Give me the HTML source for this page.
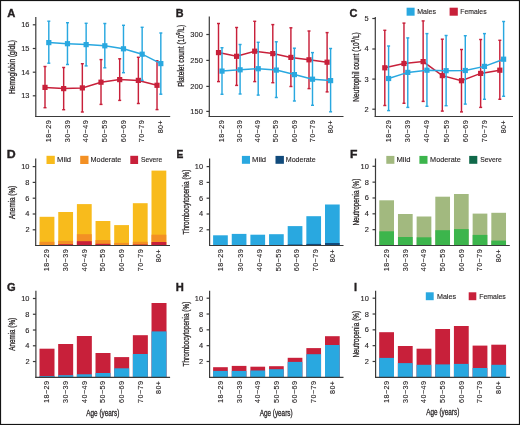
<!DOCTYPE html>
<html><head><meta charset="utf-8"><style>
html,body{margin:0;padding:0;background:#fff;}
body{width:520px;height:425px;overflow:hidden;}
svg{display:block;will-change:transform;}
text{font-family:"Liberation Sans",sans-serif;font-kerning:none;stroke:#231f20;stroke-width:0.28px;}
text.t{stroke-width:0.12px;}
</style></head><body>
<svg width="520" height="425" viewBox="0 0 520 425">
<rect x="0" y="0" width="520" height="425" fill="#fff"/>
<text transform="translate(7.32,16.90) scale(1.058,1)" font-size="10.58" font-weight="bold" style="stroke-width:0.35px" fill="#231f20">A</text>
<text transform="translate(175.80,16.90) scale(1.023,1)" font-size="10.58" font-weight="bold" style="stroke-width:0.35px" fill="#231f20">B</text>
<text transform="translate(349.46,16.70) scale(1.039,1)" font-size="10.58" font-weight="bold" style="stroke-width:0.35px" fill="#231f20">C</text>
<text transform="translate(6.70,158.30) scale(1.168,1)" font-size="10.58" font-weight="bold" style="stroke-width:0.35px" fill="#231f20">D</text>
<text transform="translate(176.43,158.30) scale(0.970,1)" font-size="10.58" font-weight="bold" style="stroke-width:0.35px" fill="#231f20">E</text>
<text transform="translate(350.11,158.30) scale(1.149,1)" font-size="10.58" font-weight="bold" style="stroke-width:0.35px" fill="#231f20">F</text>
<text transform="translate(6.96,290.70) scale(1.111,1)" font-size="10.00" font-weight="bold" style="stroke-width:0.35px" fill="#231f20">G</text>
<text transform="translate(175.67,290.50) scale(1.103,1)" font-size="10.14" font-weight="bold" style="stroke-width:0.35px" fill="#231f20">H</text>
<text transform="translate(353.88,290.70) scale(1.057,1)" font-size="10.43" font-weight="bold" style="stroke-width:0.35px" fill="#231f20">I</text>
<text class="t" transform="translate(21.22,27.29) scale(1.050,1)" font-size="7.10" fill="#231f20">16</text>
<text class="t" transform="translate(21.22,50.98) scale(1.050,1)" font-size="7.10" fill="#231f20">15</text>
<text class="t" transform="translate(21.15,74.69) scale(1.050,1)" font-size="7.10" fill="#231f20">14</text>
<text class="t" transform="translate(21.22,98.28) scale(1.050,1)" font-size="7.10" fill="#231f20">13</text>
<text transform="translate(15.40,94.03) rotate(-90) scale(0.757,1)" font-size="8.70" fill="#231f20">Hemoglobin (g/dL)</text>
<text class="t" transform="translate(50.95,142.31) rotate(-90) scale(0.980,1)" font-size="7.30" letter-spacing="0.5" fill="#231f20">18−29</text>
<text class="t" transform="translate(69.62,142.31) rotate(-90) scale(0.980,1)" font-size="7.30" letter-spacing="0.5" fill="#231f20">30−39</text>
<text class="t" transform="translate(88.30,142.31) rotate(-90) scale(0.980,1)" font-size="7.30" letter-spacing="0.5" fill="#231f20">40−49</text>
<text class="t" transform="translate(106.97,142.31) rotate(-90) scale(0.980,1)" font-size="7.30" letter-spacing="0.5" fill="#231f20">50−59</text>
<text class="t" transform="translate(125.64,142.31) rotate(-90) scale(0.980,1)" font-size="7.30" letter-spacing="0.5" fill="#231f20">60−69</text>
<text class="t" transform="translate(144.31,142.31) rotate(-90) scale(0.980,1)" font-size="7.30" letter-spacing="0.5" fill="#231f20">70−79</text>
<text class="t" transform="translate(162.98,133.37) rotate(-90) scale(0.980,1)" font-size="7.30" letter-spacing="0.5" fill="#231f20">80+</text>
<polyline points="45.00,87.40 63.67,88.60 82.34,87.90 101.01,82.20 119.68,79.60 138.35,80.40 157.02,85.30" fill="none" stroke="#c8203a" stroke-width="1.5"/>
<line x1="45.00" y1="66.50" x2="45.00" y2="107.70" stroke="#c8203a" stroke-width="1.45"/>
<line x1="43.50" y1="66.50" x2="46.50" y2="66.50" stroke="#c8203a" stroke-width="1.45"/>
<line x1="43.50" y1="107.70" x2="46.50" y2="107.70" stroke="#c8203a" stroke-width="1.45"/>
<line x1="63.67" y1="67.50" x2="63.67" y2="109.70" stroke="#c8203a" stroke-width="1.45"/>
<line x1="62.17" y1="67.50" x2="65.17" y2="67.50" stroke="#c8203a" stroke-width="1.45"/>
<line x1="62.17" y1="109.70" x2="65.17" y2="109.70" stroke="#c8203a" stroke-width="1.45"/>
<line x1="82.34" y1="63.70" x2="82.34" y2="112.00" stroke="#c8203a" stroke-width="1.45"/>
<line x1="80.84" y1="63.70" x2="83.84" y2="63.70" stroke="#c8203a" stroke-width="1.45"/>
<line x1="80.84" y1="112.00" x2="83.84" y2="112.00" stroke="#c8203a" stroke-width="1.45"/>
<line x1="101.01" y1="59.60" x2="101.01" y2="104.40" stroke="#c8203a" stroke-width="1.45"/>
<line x1="99.51" y1="59.60" x2="102.51" y2="59.60" stroke="#c8203a" stroke-width="1.45"/>
<line x1="99.51" y1="104.40" x2="102.51" y2="104.40" stroke="#c8203a" stroke-width="1.45"/>
<line x1="119.68" y1="58.80" x2="119.68" y2="100.40" stroke="#c8203a" stroke-width="1.45"/>
<line x1="118.18" y1="58.80" x2="121.18" y2="58.80" stroke="#c8203a" stroke-width="1.45"/>
<line x1="118.18" y1="100.40" x2="121.18" y2="100.40" stroke="#c8203a" stroke-width="1.45"/>
<line x1="138.35" y1="57.30" x2="138.35" y2="103.50" stroke="#c8203a" stroke-width="1.45"/>
<line x1="136.85" y1="57.30" x2="139.85" y2="57.30" stroke="#c8203a" stroke-width="1.45"/>
<line x1="136.85" y1="103.50" x2="139.85" y2="103.50" stroke="#c8203a" stroke-width="1.45"/>
<line x1="157.02" y1="60.80" x2="157.02" y2="109.60" stroke="#c8203a" stroke-width="1.45"/>
<line x1="155.52" y1="60.80" x2="158.52" y2="60.80" stroke="#c8203a" stroke-width="1.45"/>
<line x1="155.52" y1="109.60" x2="158.52" y2="109.60" stroke="#c8203a" stroke-width="1.45"/>
<rect x="42.40" y="84.80" width="5.20" height="5.20" fill="#c8203a"/>
<rect x="61.07" y="86.00" width="5.20" height="5.20" fill="#c8203a"/>
<rect x="79.74" y="85.30" width="5.20" height="5.20" fill="#c8203a"/>
<rect x="98.41" y="79.60" width="5.20" height="5.20" fill="#c8203a"/>
<rect x="117.08" y="77.00" width="5.20" height="5.20" fill="#c8203a"/>
<rect x="135.75" y="77.80" width="5.20" height="5.20" fill="#c8203a"/>
<rect x="154.42" y="82.70" width="5.20" height="5.20" fill="#c8203a"/>
<polyline points="48.80,42.60 67.47,43.70 86.14,44.60 104.81,45.80 123.48,48.80 142.15,54.20 160.82,63.60" fill="none" stroke="#29a8e0" stroke-width="1.5"/>
<line x1="48.80" y1="21.20" x2="48.80" y2="63.20" stroke="#29a8e0" stroke-width="1.45"/>
<line x1="47.30" y1="21.20" x2="50.30" y2="21.20" stroke="#29a8e0" stroke-width="1.45"/>
<line x1="47.30" y1="63.20" x2="50.30" y2="63.20" stroke="#29a8e0" stroke-width="1.45"/>
<line x1="67.47" y1="22.70" x2="67.47" y2="64.50" stroke="#29a8e0" stroke-width="1.45"/>
<line x1="65.97" y1="22.70" x2="68.97" y2="22.70" stroke="#29a8e0" stroke-width="1.45"/>
<line x1="65.97" y1="64.50" x2="68.97" y2="64.50" stroke="#29a8e0" stroke-width="1.45"/>
<line x1="86.14" y1="23.30" x2="86.14" y2="65.90" stroke="#29a8e0" stroke-width="1.45"/>
<line x1="84.64" y1="23.30" x2="87.64" y2="23.30" stroke="#29a8e0" stroke-width="1.45"/>
<line x1="84.64" y1="65.90" x2="87.64" y2="65.90" stroke="#29a8e0" stroke-width="1.45"/>
<line x1="104.81" y1="23.50" x2="104.81" y2="67.80" stroke="#29a8e0" stroke-width="1.45"/>
<line x1="103.31" y1="23.50" x2="106.31" y2="23.50" stroke="#29a8e0" stroke-width="1.45"/>
<line x1="103.31" y1="67.80" x2="106.31" y2="67.80" stroke="#29a8e0" stroke-width="1.45"/>
<line x1="123.48" y1="25.30" x2="123.48" y2="72.70" stroke="#29a8e0" stroke-width="1.45"/>
<line x1="121.98" y1="25.30" x2="124.98" y2="25.30" stroke="#29a8e0" stroke-width="1.45"/>
<line x1="121.98" y1="72.70" x2="124.98" y2="72.70" stroke="#29a8e0" stroke-width="1.45"/>
<line x1="142.15" y1="27.30" x2="142.15" y2="80.40" stroke="#29a8e0" stroke-width="1.45"/>
<line x1="140.65" y1="27.30" x2="143.65" y2="27.30" stroke="#29a8e0" stroke-width="1.45"/>
<line x1="140.65" y1="80.40" x2="143.65" y2="80.40" stroke="#29a8e0" stroke-width="1.45"/>
<line x1="160.82" y1="33.00" x2="160.82" y2="94.20" stroke="#29a8e0" stroke-width="1.45"/>
<line x1="159.32" y1="33.00" x2="162.32" y2="33.00" stroke="#29a8e0" stroke-width="1.45"/>
<line x1="159.32" y1="94.20" x2="162.32" y2="94.20" stroke="#29a8e0" stroke-width="1.45"/>
<rect x="46.20" y="40.00" width="5.20" height="5.20" fill="#29a8e0"/>
<rect x="64.87" y="41.10" width="5.20" height="5.20" fill="#29a8e0"/>
<rect x="83.54" y="42.00" width="5.20" height="5.20" fill="#29a8e0"/>
<rect x="102.21" y="43.20" width="5.20" height="5.20" fill="#29a8e0"/>
<rect x="120.88" y="46.20" width="5.20" height="5.20" fill="#29a8e0"/>
<rect x="139.55" y="51.60" width="5.20" height="5.20" fill="#29a8e0"/>
<rect x="158.22" y="61.00" width="5.20" height="5.20" fill="#29a8e0"/>
<text class="t" transform="translate(190.35,36.98) scale(1.050,1)" font-size="7.10" fill="#231f20">300</text>
<text class="t" transform="translate(190.35,62.88) scale(1.050,1)" font-size="7.10" fill="#231f20">250</text>
<text class="t" transform="translate(190.35,88.89) scale(1.050,1)" font-size="7.10" fill="#231f20">200</text>
<text class="t" transform="translate(190.35,113.89) scale(1.050,1)" font-size="7.10" fill="#231f20">150</text>
<text transform="translate(183.80,86.83) rotate(-90) scale(0.768,1)" font-size="8.70" fill="#231f20">Platelet count (10<tspan font-size="5.39" dy="-3.65">9</tspan><tspan dy="3.65">/L)</tspan></text>
<text class="t" transform="translate(224.16,142.31) rotate(-90) scale(0.980,1)" font-size="7.30" letter-spacing="0.5" fill="#231f20">18−29</text>
<text class="t" transform="translate(242.25,142.31) rotate(-90) scale(0.980,1)" font-size="7.30" letter-spacing="0.5" fill="#231f20">30−39</text>
<text class="t" transform="translate(260.36,142.31) rotate(-90) scale(0.980,1)" font-size="7.30" letter-spacing="0.5" fill="#231f20">40−49</text>
<text class="t" transform="translate(278.45,142.31) rotate(-90) scale(0.980,1)" font-size="7.30" letter-spacing="0.5" fill="#231f20">50−59</text>
<text class="t" transform="translate(296.56,142.31) rotate(-90) scale(0.980,1)" font-size="7.30" letter-spacing="0.5" fill="#231f20">60−69</text>
<text class="t" transform="translate(314.66,142.31) rotate(-90) scale(0.980,1)" font-size="7.30" letter-spacing="0.5" fill="#231f20">70−79</text>
<text class="t" transform="translate(332.75,133.37) rotate(-90) scale(0.980,1)" font-size="7.30" letter-spacing="0.5" fill="#231f20">80+</text>
<polyline points="218.50,52.60 236.60,56.30 254.70,51.20 272.80,53.60 290.90,57.40 309.00,59.80 327.10,62.20" fill="none" stroke="#c8203a" stroke-width="1.5"/>
<line x1="218.50" y1="23.50" x2="218.50" y2="81.60" stroke="#c8203a" stroke-width="1.45"/>
<line x1="217.00" y1="23.50" x2="220.00" y2="23.50" stroke="#c8203a" stroke-width="1.45"/>
<line x1="217.00" y1="81.60" x2="220.00" y2="81.60" stroke="#c8203a" stroke-width="1.45"/>
<line x1="236.60" y1="27.50" x2="236.60" y2="85.40" stroke="#c8203a" stroke-width="1.45"/>
<line x1="235.10" y1="27.50" x2="238.10" y2="27.50" stroke="#c8203a" stroke-width="1.45"/>
<line x1="235.10" y1="85.40" x2="238.10" y2="85.40" stroke="#c8203a" stroke-width="1.45"/>
<line x1="254.70" y1="21.30" x2="254.70" y2="81.60" stroke="#c8203a" stroke-width="1.45"/>
<line x1="253.20" y1="21.30" x2="256.20" y2="21.30" stroke="#c8203a" stroke-width="1.45"/>
<line x1="253.20" y1="81.60" x2="256.20" y2="81.60" stroke="#c8203a" stroke-width="1.45"/>
<line x1="272.80" y1="24.60" x2="272.80" y2="82.70" stroke="#c8203a" stroke-width="1.45"/>
<line x1="271.30" y1="24.60" x2="274.30" y2="24.60" stroke="#c8203a" stroke-width="1.45"/>
<line x1="271.30" y1="82.70" x2="274.30" y2="82.70" stroke="#c8203a" stroke-width="1.45"/>
<line x1="290.90" y1="27.80" x2="290.90" y2="86.50" stroke="#c8203a" stroke-width="1.45"/>
<line x1="289.40" y1="27.80" x2="292.40" y2="27.80" stroke="#c8203a" stroke-width="1.45"/>
<line x1="289.40" y1="86.50" x2="292.40" y2="86.50" stroke="#c8203a" stroke-width="1.45"/>
<line x1="309.00" y1="31.00" x2="309.00" y2="88.60" stroke="#c8203a" stroke-width="1.45"/>
<line x1="307.50" y1="31.00" x2="310.50" y2="31.00" stroke="#c8203a" stroke-width="1.45"/>
<line x1="307.50" y1="88.60" x2="310.50" y2="88.60" stroke="#c8203a" stroke-width="1.45"/>
<line x1="327.10" y1="32.60" x2="327.10" y2="91.90" stroke="#c8203a" stroke-width="1.45"/>
<line x1="325.60" y1="32.60" x2="328.60" y2="32.60" stroke="#c8203a" stroke-width="1.45"/>
<line x1="325.60" y1="91.90" x2="328.60" y2="91.90" stroke="#c8203a" stroke-width="1.45"/>
<rect x="215.90" y="50.00" width="5.20" height="5.20" fill="#c8203a"/>
<rect x="234.00" y="53.70" width="5.20" height="5.20" fill="#c8203a"/>
<rect x="252.10" y="48.60" width="5.20" height="5.20" fill="#c8203a"/>
<rect x="270.20" y="51.00" width="5.20" height="5.20" fill="#c8203a"/>
<rect x="288.30" y="54.80" width="5.20" height="5.20" fill="#c8203a"/>
<rect x="306.40" y="57.20" width="5.20" height="5.20" fill="#c8203a"/>
<rect x="324.50" y="59.60" width="5.20" height="5.20" fill="#c8203a"/>
<polyline points="222.00,71.10 240.10,69.80 258.20,68.70 276.30,70.10 294.40,74.60 312.50,79.20 330.60,80.60" fill="none" stroke="#29a8e0" stroke-width="1.5"/>
<line x1="222.00" y1="47.70" x2="222.00" y2="94.30" stroke="#29a8e0" stroke-width="1.45"/>
<line x1="220.50" y1="47.70" x2="223.50" y2="47.70" stroke="#29a8e0" stroke-width="1.45"/>
<line x1="220.50" y1="94.30" x2="223.50" y2="94.30" stroke="#29a8e0" stroke-width="1.45"/>
<line x1="240.10" y1="44.50" x2="240.10" y2="94.00" stroke="#29a8e0" stroke-width="1.45"/>
<line x1="238.60" y1="44.50" x2="241.60" y2="44.50" stroke="#29a8e0" stroke-width="1.45"/>
<line x1="238.60" y1="94.00" x2="241.60" y2="94.00" stroke="#29a8e0" stroke-width="1.45"/>
<line x1="258.20" y1="42.30" x2="258.20" y2="95.10" stroke="#29a8e0" stroke-width="1.45"/>
<line x1="256.70" y1="42.30" x2="259.70" y2="42.30" stroke="#29a8e0" stroke-width="1.45"/>
<line x1="256.70" y1="95.10" x2="259.70" y2="95.10" stroke="#29a8e0" stroke-width="1.45"/>
<line x1="276.30" y1="41.80" x2="276.30" y2="97.50" stroke="#29a8e0" stroke-width="1.45"/>
<line x1="274.80" y1="41.80" x2="277.80" y2="41.80" stroke="#29a8e0" stroke-width="1.45"/>
<line x1="274.80" y1="97.50" x2="277.80" y2="97.50" stroke="#29a8e0" stroke-width="1.45"/>
<line x1="294.40" y1="48.20" x2="294.40" y2="101.00" stroke="#29a8e0" stroke-width="1.45"/>
<line x1="292.90" y1="48.20" x2="295.90" y2="48.20" stroke="#29a8e0" stroke-width="1.45"/>
<line x1="292.90" y1="101.00" x2="295.90" y2="101.00" stroke="#29a8e0" stroke-width="1.45"/>
<line x1="312.50" y1="52.60" x2="312.50" y2="105.30" stroke="#29a8e0" stroke-width="1.45"/>
<line x1="311.00" y1="52.60" x2="314.00" y2="52.60" stroke="#29a8e0" stroke-width="1.45"/>
<line x1="311.00" y1="105.30" x2="314.00" y2="105.30" stroke="#29a8e0" stroke-width="1.45"/>
<line x1="330.60" y1="48.50" x2="330.60" y2="111.80" stroke="#29a8e0" stroke-width="1.45"/>
<line x1="329.10" y1="48.50" x2="332.10" y2="48.50" stroke="#29a8e0" stroke-width="1.45"/>
<line x1="329.10" y1="111.80" x2="332.10" y2="111.80" stroke="#29a8e0" stroke-width="1.45"/>
<rect x="219.40" y="68.50" width="5.20" height="5.20" fill="#29a8e0"/>
<rect x="237.50" y="67.20" width="5.20" height="5.20" fill="#29a8e0"/>
<rect x="255.60" y="66.10" width="5.20" height="5.20" fill="#29a8e0"/>
<rect x="273.70" y="67.50" width="5.20" height="5.20" fill="#29a8e0"/>
<rect x="291.80" y="72.00" width="5.20" height="5.20" fill="#29a8e0"/>
<rect x="309.90" y="76.60" width="5.20" height="5.20" fill="#29a8e0"/>
<rect x="328.00" y="78.00" width="5.20" height="5.20" fill="#29a8e0"/>
<text class="t" transform="translate(364.46,20.98) scale(1.050,1)" font-size="7.10" fill="#231f20">5</text>
<text class="t" transform="translate(364.39,51.48) scale(1.050,1)" font-size="7.10" fill="#231f20">4</text>
<text class="t" transform="translate(364.46,81.58) scale(1.050,1)" font-size="7.10" fill="#231f20">3</text>
<text class="t" transform="translate(364.54,111.69) scale(1.050,1)" font-size="7.10" fill="#231f20">2</text>
<text transform="translate(358.60,101.73) rotate(-90) scale(0.737,1)" font-size="8.99" fill="#231f20">Neutrophil count (10<tspan font-size="5.57" dy="-3.77">9</tspan><tspan dy="3.77">/L)</tspan></text>
<text class="t" transform="translate(391.06,142.31) rotate(-90) scale(0.980,1)" font-size="7.30" letter-spacing="0.5" fill="#231f20">18−29</text>
<text class="t" transform="translate(410.23,142.31) rotate(-90) scale(0.980,1)" font-size="7.30" letter-spacing="0.5" fill="#231f20">30−39</text>
<text class="t" transform="translate(429.40,142.31) rotate(-90) scale(0.980,1)" font-size="7.30" letter-spacing="0.5" fill="#231f20">40−49</text>
<text class="t" transform="translate(448.56,142.31) rotate(-90) scale(0.980,1)" font-size="7.30" letter-spacing="0.5" fill="#231f20">50−59</text>
<text class="t" transform="translate(467.74,142.31) rotate(-90) scale(0.980,1)" font-size="7.30" letter-spacing="0.5" fill="#231f20">60−69</text>
<text class="t" transform="translate(486.91,142.31) rotate(-90) scale(0.980,1)" font-size="7.30" letter-spacing="0.5" fill="#231f20">70−79</text>
<text class="t" transform="translate(506.07,133.37) rotate(-90) scale(0.980,1)" font-size="7.30" letter-spacing="0.5" fill="#231f20">80+</text>
<polyline points="384.80,67.80 403.97,63.50 423.14,61.60 442.31,75.60 461.48,80.70 480.65,73.40 499.82,70.20" fill="none" stroke="#c8203a" stroke-width="1.5"/>
<line x1="384.80" y1="30.30" x2="384.80" y2="105.50" stroke="#c8203a" stroke-width="1.45"/>
<line x1="383.30" y1="30.30" x2="386.30" y2="30.30" stroke="#c8203a" stroke-width="1.45"/>
<line x1="383.30" y1="105.50" x2="386.30" y2="105.50" stroke="#c8203a" stroke-width="1.45"/>
<line x1="403.97" y1="23.10" x2="403.97" y2="103.30" stroke="#c8203a" stroke-width="1.45"/>
<line x1="402.47" y1="23.10" x2="405.47" y2="23.10" stroke="#c8203a" stroke-width="1.45"/>
<line x1="402.47" y1="103.30" x2="405.47" y2="103.30" stroke="#c8203a" stroke-width="1.45"/>
<line x1="423.14" y1="20.90" x2="423.14" y2="101.40" stroke="#c8203a" stroke-width="1.45"/>
<line x1="421.64" y1="20.90" x2="424.64" y2="20.90" stroke="#c8203a" stroke-width="1.45"/>
<line x1="421.64" y1="101.40" x2="424.64" y2="101.40" stroke="#c8203a" stroke-width="1.45"/>
<line x1="442.31" y1="39.20" x2="442.31" y2="111.10" stroke="#c8203a" stroke-width="1.45"/>
<line x1="440.81" y1="39.20" x2="443.81" y2="39.20" stroke="#c8203a" stroke-width="1.45"/>
<line x1="440.81" y1="111.10" x2="443.81" y2="111.10" stroke="#c8203a" stroke-width="1.45"/>
<line x1="461.48" y1="49.50" x2="461.48" y2="111.90" stroke="#c8203a" stroke-width="1.45"/>
<line x1="459.98" y1="49.50" x2="462.98" y2="49.50" stroke="#c8203a" stroke-width="1.45"/>
<line x1="459.98" y1="111.90" x2="462.98" y2="111.90" stroke="#c8203a" stroke-width="1.45"/>
<line x1="480.65" y1="39.50" x2="480.65" y2="107.40" stroke="#c8203a" stroke-width="1.45"/>
<line x1="479.15" y1="39.50" x2="482.15" y2="39.50" stroke="#c8203a" stroke-width="1.45"/>
<line x1="479.15" y1="107.40" x2="482.15" y2="107.40" stroke="#c8203a" stroke-width="1.45"/>
<line x1="499.82" y1="40.30" x2="499.82" y2="99.30" stroke="#c8203a" stroke-width="1.45"/>
<line x1="498.32" y1="40.30" x2="501.32" y2="40.30" stroke="#c8203a" stroke-width="1.45"/>
<line x1="498.32" y1="99.30" x2="501.32" y2="99.30" stroke="#c8203a" stroke-width="1.45"/>
<rect x="382.20" y="65.20" width="5.20" height="5.20" fill="#c8203a"/>
<rect x="401.37" y="60.90" width="5.20" height="5.20" fill="#c8203a"/>
<rect x="420.54" y="59.00" width="5.20" height="5.20" fill="#c8203a"/>
<rect x="439.71" y="73.00" width="5.20" height="5.20" fill="#c8203a"/>
<rect x="458.88" y="78.10" width="5.20" height="5.20" fill="#c8203a"/>
<rect x="478.05" y="70.80" width="5.20" height="5.20" fill="#c8203a"/>
<rect x="497.22" y="67.60" width="5.20" height="5.20" fill="#c8203a"/>
<polyline points="388.60,78.50 407.77,72.40 426.94,70.20 446.11,70.70 465.28,70.50 484.45,66.40 503.62,59.20" fill="none" stroke="#29a8e0" stroke-width="1.5"/>
<line x1="388.60" y1="46.00" x2="388.60" y2="110.60" stroke="#29a8e0" stroke-width="1.45"/>
<line x1="387.10" y1="46.00" x2="390.10" y2="46.00" stroke="#29a8e0" stroke-width="1.45"/>
<line x1="387.10" y1="110.60" x2="390.10" y2="110.60" stroke="#29a8e0" stroke-width="1.45"/>
<line x1="407.77" y1="37.90" x2="407.77" y2="107.40" stroke="#29a8e0" stroke-width="1.45"/>
<line x1="406.27" y1="37.90" x2="409.27" y2="37.90" stroke="#29a8e0" stroke-width="1.45"/>
<line x1="406.27" y1="107.40" x2="409.27" y2="107.40" stroke="#29a8e0" stroke-width="1.45"/>
<line x1="426.94" y1="33.60" x2="426.94" y2="106.30" stroke="#29a8e0" stroke-width="1.45"/>
<line x1="425.44" y1="33.60" x2="428.44" y2="33.60" stroke="#29a8e0" stroke-width="1.45"/>
<line x1="425.44" y1="106.30" x2="428.44" y2="106.30" stroke="#29a8e0" stroke-width="1.45"/>
<line x1="446.11" y1="35.50" x2="446.11" y2="105.70" stroke="#29a8e0" stroke-width="1.45"/>
<line x1="444.61" y1="35.50" x2="447.61" y2="35.50" stroke="#29a8e0" stroke-width="1.45"/>
<line x1="444.61" y1="105.70" x2="447.61" y2="105.70" stroke="#29a8e0" stroke-width="1.45"/>
<line x1="465.28" y1="35.70" x2="465.28" y2="104.10" stroke="#29a8e0" stroke-width="1.45"/>
<line x1="463.78" y1="35.70" x2="466.78" y2="35.70" stroke="#29a8e0" stroke-width="1.45"/>
<line x1="463.78" y1="104.10" x2="466.78" y2="104.10" stroke="#29a8e0" stroke-width="1.45"/>
<line x1="484.45" y1="33.60" x2="484.45" y2="99.30" stroke="#29a8e0" stroke-width="1.45"/>
<line x1="482.95" y1="33.60" x2="485.95" y2="33.60" stroke="#29a8e0" stroke-width="1.45"/>
<line x1="482.95" y1="99.30" x2="485.95" y2="99.30" stroke="#29a8e0" stroke-width="1.45"/>
<line x1="503.62" y1="21.50" x2="503.62" y2="96.30" stroke="#29a8e0" stroke-width="1.45"/>
<line x1="502.12" y1="21.50" x2="505.12" y2="21.50" stroke="#29a8e0" stroke-width="1.45"/>
<line x1="502.12" y1="96.30" x2="505.12" y2="96.30" stroke="#29a8e0" stroke-width="1.45"/>
<rect x="386.00" y="75.90" width="5.20" height="5.20" fill="#29a8e0"/>
<rect x="405.17" y="69.80" width="5.20" height="5.20" fill="#29a8e0"/>
<rect x="424.34" y="67.60" width="5.20" height="5.20" fill="#29a8e0"/>
<rect x="443.51" y="68.10" width="5.20" height="5.20" fill="#29a8e0"/>
<rect x="462.68" y="67.90" width="5.20" height="5.20" fill="#29a8e0"/>
<rect x="481.85" y="63.80" width="5.20" height="5.20" fill="#29a8e0"/>
<rect x="501.02" y="56.60" width="5.20" height="5.20" fill="#29a8e0"/>
<rect x="406.60" y="7.70" width="8.00" height="8.00" fill="#29a8e0"/>
<text class="t" transform="translate(417.24,13.90) scale(0.953,1)" font-size="7.39" fill="#231f20">Males</text>
<rect x="449.60" y="7.70" width="8.20" height="8.00" fill="#c8203a"/>
<text class="t" transform="translate(460.35,13.90) scale(0.927,1)" font-size="7.39" fill="#231f20">Females</text>
<text class="t" transform="translate(21.19,169.09) scale(1.050,1)" font-size="7.10" fill="#231f20">10</text>
<text class="t" transform="translate(25.36,184.88) scale(1.050,1)" font-size="7.10" fill="#231f20">8</text>
<text class="t" transform="translate(25.36,200.69) scale(1.050,1)" font-size="7.10" fill="#231f20">6</text>
<text class="t" transform="translate(25.29,216.49) scale(1.050,1)" font-size="7.10" fill="#231f20">4</text>
<text class="t" transform="translate(25.44,232.28) scale(1.050,1)" font-size="7.10" fill="#231f20">2</text>
<text transform="translate(15.00,218.90) rotate(-90) scale(0.743,1)" font-size="8.55" fill="#231f20">Anemia (%)</text>
<text class="t" transform="translate(49.36,271.31) rotate(-90) scale(0.980,1)" font-size="7.30" letter-spacing="0.5" fill="#231f20">18−29</text>
<text class="t" transform="translate(68.00,271.31) rotate(-90) scale(0.980,1)" font-size="7.30" letter-spacing="0.5" fill="#231f20">30−39</text>
<text class="t" transform="translate(86.66,271.31) rotate(-90) scale(0.980,1)" font-size="7.30" letter-spacing="0.5" fill="#231f20">40−49</text>
<text class="t" transform="translate(105.31,271.31) rotate(-90) scale(0.980,1)" font-size="7.30" letter-spacing="0.5" fill="#231f20">50−59</text>
<text class="t" transform="translate(123.95,271.31) rotate(-90) scale(0.980,1)" font-size="7.30" letter-spacing="0.5" fill="#231f20">60−69</text>
<text class="t" transform="translate(142.60,271.31) rotate(-90) scale(0.980,1)" font-size="7.30" letter-spacing="0.5" fill="#231f20">70−79</text>
<text class="t" transform="translate(161.25,262.37) rotate(-90) scale(0.980,1)" font-size="7.30" letter-spacing="0.5" fill="#231f20">80+</text>
<rect x="39.60" y="216.80" width="14.80" height="28.70" fill="#f8bb1c"/>
<rect x="39.60" y="241.80" width="14.80" height="3.70" fill="#f39024"/>
<rect x="39.60" y="245.00" width="14.80" height="0.50" fill="#c8203a"/>
<rect x="58.25" y="212.00" width="14.80" height="33.50" fill="#f8bb1c"/>
<rect x="58.25" y="240.90" width="14.80" height="4.60" fill="#f39024"/>
<rect x="58.25" y="244.20" width="14.80" height="1.30" fill="#c8203a"/>
<rect x="76.90" y="204.10" width="14.80" height="41.40" fill="#f8bb1c"/>
<rect x="76.90" y="234.20" width="14.80" height="11.30" fill="#f39024"/>
<rect x="76.90" y="241.20" width="14.80" height="4.30" fill="#c8203a"/>
<rect x="95.55" y="221.00" width="14.80" height="24.50" fill="#f8bb1c"/>
<rect x="95.55" y="240.10" width="14.80" height="5.40" fill="#f39024"/>
<rect x="95.55" y="243.80" width="14.80" height="1.70" fill="#c8203a"/>
<rect x="114.20" y="225.10" width="14.80" height="20.40" fill="#f8bb1c"/>
<rect x="114.20" y="242.90" width="14.80" height="2.60" fill="#f39024"/>
<rect x="114.20" y="245.00" width="14.80" height="0.50" fill="#c8203a"/>
<rect x="132.85" y="203.20" width="14.80" height="42.30" fill="#f8bb1c"/>
<rect x="132.85" y="241.80" width="14.80" height="3.70" fill="#f39024"/>
<rect x="132.85" y="244.50" width="14.80" height="1.00" fill="#c8203a"/>
<rect x="151.50" y="170.60" width="14.80" height="74.90" fill="#f8bb1c"/>
<rect x="151.50" y="234.70" width="14.80" height="10.80" fill="#f39024"/>
<rect x="151.50" y="242.00" width="14.80" height="3.50" fill="#c8203a"/>
<rect x="46.50" y="155.80" width="8.30" height="8.20" fill="#f8bb1c"/>
<text class="t" transform="translate(57.09,162.00) scale(1.016,1)" font-size="7.54" fill="#231f20">Mild</text>
<rect x="80.20" y="155.80" width="8.30" height="8.20" fill="#f39024"/>
<text class="t" transform="translate(90.52,162.00) scale(0.968,1)" font-size="7.54" fill="#231f20">Moderate</text>
<rect x="130.30" y="155.80" width="7.80" height="8.20" fill="#c8203a"/>
<text class="t" transform="translate(140.90,162.00) scale(0.898,1)" font-size="7.54" fill="#231f20">Severe</text>
<text class="t" transform="translate(194.79,169.09) scale(1.050,1)" font-size="7.10" fill="#231f20">10</text>
<text class="t" transform="translate(198.96,184.88) scale(1.050,1)" font-size="7.10" fill="#231f20">8</text>
<text class="t" transform="translate(198.96,200.69) scale(1.050,1)" font-size="7.10" fill="#231f20">6</text>
<text class="t" transform="translate(198.89,216.49) scale(1.050,1)" font-size="7.10" fill="#231f20">4</text>
<text class="t" transform="translate(199.04,232.28) scale(1.050,1)" font-size="7.10" fill="#231f20">2</text>
<text transform="translate(188.50,234.53) rotate(-90) scale(0.752,1)" font-size="8.55" fill="#231f20">Thrombocytopenia (%)</text>
<text class="t" transform="translate(222.75,271.31) rotate(-90) scale(0.980,1)" font-size="7.30" letter-spacing="0.5" fill="#231f20">18−29</text>
<text class="t" transform="translate(243.25,271.31) rotate(-90) scale(0.980,1)" font-size="7.30" letter-spacing="0.5" fill="#231f20">30−39</text>
<text class="t" transform="translate(261.86,271.31) rotate(-90) scale(0.980,1)" font-size="7.30" letter-spacing="0.5" fill="#231f20">40−49</text>
<text class="t" transform="translate(280.66,271.31) rotate(-90) scale(0.980,1)" font-size="7.30" letter-spacing="0.5" fill="#231f20">50−59</text>
<text class="t" transform="translate(299.36,271.31) rotate(-90) scale(0.980,1)" font-size="7.30" letter-spacing="0.5" fill="#231f20">60−69</text>
<text class="t" transform="translate(317.86,271.31) rotate(-90) scale(0.980,1)" font-size="7.30" letter-spacing="0.5" fill="#231f20">70−79</text>
<text class="t" transform="translate(334.66,262.37) rotate(-90) scale(0.980,1)" font-size="7.30" letter-spacing="0.5" fill="#231f20">80+</text>
<rect x="213.10" y="235.30" width="14.70" height="10.20" fill="#29a8e0"/>
<rect x="213.10" y="245.20" width="14.70" height="0.30" fill="#114b7c"/>
<rect x="231.75" y="233.90" width="14.70" height="11.60" fill="#29a8e0"/>
<rect x="231.75" y="245.20" width="14.70" height="0.30" fill="#114b7c"/>
<rect x="250.40" y="234.70" width="14.70" height="10.80" fill="#29a8e0"/>
<rect x="250.40" y="245.20" width="14.70" height="0.30" fill="#114b7c"/>
<rect x="269.05" y="234.20" width="14.70" height="11.30" fill="#29a8e0"/>
<rect x="269.05" y="245.20" width="14.70" height="0.30" fill="#114b7c"/>
<rect x="287.70" y="226.10" width="14.70" height="19.40" fill="#29a8e0"/>
<rect x="287.70" y="244.50" width="14.70" height="1.00" fill="#114b7c"/>
<rect x="306.35" y="216.20" width="14.70" height="29.30" fill="#29a8e0"/>
<rect x="306.35" y="243.90" width="14.70" height="1.60" fill="#114b7c"/>
<rect x="325.00" y="204.50" width="14.70" height="41.00" fill="#29a8e0"/>
<rect x="325.00" y="243.00" width="14.70" height="2.50" fill="#114b7c"/>
<rect x="241.90" y="155.90" width="8.10" height="7.90" fill="#29a8e0"/>
<text class="t" transform="translate(252.09,162.00) scale(1.016,1)" font-size="7.54" fill="#231f20">Mild</text>
<rect x="275.50" y="155.90" width="8.40" height="7.90" fill="#114b7c"/>
<text class="t" transform="translate(285.73,162.00) scale(0.942,1)" font-size="7.54" fill="#231f20">Moderate</text>
<text class="t" transform="translate(360.59,168.79) scale(1.050,1)" font-size="7.10" fill="#231f20">10</text>
<text class="t" transform="translate(364.76,184.63) scale(1.050,1)" font-size="7.10" fill="#231f20">8</text>
<text class="t" transform="translate(364.76,200.47) scale(1.050,1)" font-size="7.10" fill="#231f20">6</text>
<text class="t" transform="translate(364.69,216.31) scale(1.050,1)" font-size="7.10" fill="#231f20">4</text>
<text class="t" transform="translate(364.84,232.15) scale(1.050,1)" font-size="7.10" fill="#231f20">2</text>
<text transform="translate(358.50,225.62) rotate(-90) scale(0.755,1)" font-size="8.55" fill="#231f20">Neutropenia (%)</text>
<text class="t" transform="translate(389.06,271.31) rotate(-90) scale(0.980,1)" font-size="7.30" letter-spacing="0.5" fill="#231f20">18−29</text>
<text class="t" transform="translate(407.73,271.31) rotate(-90) scale(0.980,1)" font-size="7.30" letter-spacing="0.5" fill="#231f20">30−39</text>
<text class="t" transform="translate(426.39,271.31) rotate(-90) scale(0.980,1)" font-size="7.30" letter-spacing="0.5" fill="#231f20">40−49</text>
<text class="t" transform="translate(445.06,271.31) rotate(-90) scale(0.980,1)" font-size="7.30" letter-spacing="0.5" fill="#231f20">50−59</text>
<text class="t" transform="translate(463.74,271.31) rotate(-90) scale(0.980,1)" font-size="7.30" letter-spacing="0.5" fill="#231f20">60−69</text>
<text class="t" transform="translate(482.41,271.31) rotate(-90) scale(0.980,1)" font-size="7.30" letter-spacing="0.5" fill="#231f20">70−79</text>
<text class="t" transform="translate(501.08,262.37) rotate(-90) scale(0.980,1)" font-size="7.30" letter-spacing="0.5" fill="#231f20">80+</text>
<rect x="379.30" y="200.30" width="14.70" height="45.20" fill="#a2b97f"/>
<rect x="379.30" y="231.30" width="14.70" height="14.20" fill="#3cb54c"/>
<rect x="397.97" y="214.00" width="14.70" height="31.50" fill="#a2b97f"/>
<rect x="397.97" y="237.00" width="14.70" height="8.50" fill="#3cb54c"/>
<rect x="416.64" y="216.50" width="14.70" height="29.00" fill="#a2b97f"/>
<rect x="416.64" y="237.30" width="14.70" height="8.20" fill="#3cb54c"/>
<rect x="435.31" y="196.70" width="14.70" height="48.80" fill="#a2b97f"/>
<rect x="435.31" y="230.20" width="14.70" height="15.30" fill="#3cb54c"/>
<rect x="453.98" y="194.00" width="14.70" height="51.50" fill="#a2b97f"/>
<rect x="453.98" y="229.10" width="14.70" height="16.40" fill="#3cb54c"/>
<rect x="472.65" y="213.60" width="14.70" height="31.90" fill="#a2b97f"/>
<rect x="472.65" y="234.90" width="14.70" height="10.60" fill="#3cb54c"/>
<rect x="491.32" y="212.80" width="14.70" height="32.70" fill="#a2b97f"/>
<rect x="491.32" y="240.60" width="14.70" height="4.90" fill="#3cb54c"/>
<rect x="386.30" y="155.90" width="8.10" height="7.90" fill="#a2b97f"/>
<text class="t" transform="translate(396.49,162.00) scale(1.016,1)" font-size="7.54" fill="#231f20">Mild</text>
<rect x="419.40" y="155.90" width="8.10" height="7.90" fill="#3cb54c"/>
<text class="t" transform="translate(430.12,162.00) scale(0.968,1)" font-size="7.54" fill="#231f20">Moderate</text>
<rect x="469.20" y="155.90" width="8.10" height="7.90" fill="#10694a"/>
<text class="t" transform="translate(480.19,162.00) scale(0.906,1)" font-size="7.54" fill="#231f20">Severe</text>
<text class="t" transform="translate(21.19,300.99) scale(1.050,1)" font-size="7.10" fill="#231f20">10</text>
<text class="t" transform="translate(25.36,316.75) scale(1.050,1)" font-size="7.10" fill="#231f20">8</text>
<text class="t" transform="translate(25.36,332.50) scale(1.050,1)" font-size="7.10" fill="#231f20">6</text>
<text class="t" transform="translate(25.29,348.27) scale(1.050,1)" font-size="7.10" fill="#231f20">4</text>
<text class="t" transform="translate(25.44,364.03) scale(1.050,1)" font-size="7.10" fill="#231f20">2</text>
<text transform="translate(15.00,350.80) rotate(-90) scale(0.739,1)" font-size="8.55" fill="#231f20">Anemia (%)</text>
<text class="t" transform="translate(49.26,403.01) rotate(-90) scale(0.980,1)" font-size="7.30" letter-spacing="0.5" fill="#231f20">18−29</text>
<text class="t" transform="translate(67.93,403.01) rotate(-90) scale(0.980,1)" font-size="7.30" letter-spacing="0.5" fill="#231f20">30−39</text>
<text class="t" transform="translate(86.59,403.01) rotate(-90) scale(0.980,1)" font-size="7.30" letter-spacing="0.5" fill="#231f20">40−49</text>
<text class="t" transform="translate(105.27,403.01) rotate(-90) scale(0.980,1)" font-size="7.30" letter-spacing="0.5" fill="#231f20">50−59</text>
<text class="t" transform="translate(123.94,403.01) rotate(-90) scale(0.980,1)" font-size="7.30" letter-spacing="0.5" fill="#231f20">60−69</text>
<text class="t" transform="translate(142.61,403.01) rotate(-90) scale(0.980,1)" font-size="7.30" letter-spacing="0.5" fill="#231f20">70−79</text>
<text class="t" transform="translate(161.28,394.07) rotate(-90) scale(0.980,1)" font-size="7.30" letter-spacing="0.5" fill="#231f20">80+</text>
<rect x="39.50" y="348.70" width="15.00" height="28.60" fill="#c8203a"/>
<rect x="39.50" y="376.10" width="15.00" height="1.20" fill="#29a8e0"/>
<rect x="58.17" y="344.00" width="15.00" height="33.30" fill="#c8203a"/>
<rect x="58.17" y="375.20" width="15.00" height="2.10" fill="#29a8e0"/>
<rect x="76.84" y="336.00" width="15.00" height="41.30" fill="#c8203a"/>
<rect x="76.84" y="374.30" width="15.00" height="3.00" fill="#29a8e0"/>
<rect x="95.51" y="353.00" width="15.00" height="24.30" fill="#c8203a"/>
<rect x="95.51" y="373.00" width="15.00" height="4.30" fill="#29a8e0"/>
<rect x="114.18" y="357.10" width="15.00" height="20.20" fill="#c8203a"/>
<rect x="114.18" y="368.30" width="15.00" height="9.00" fill="#29a8e0"/>
<rect x="132.85" y="335.20" width="15.00" height="42.10" fill="#c8203a"/>
<rect x="132.85" y="354.00" width="15.00" height="23.30" fill="#29a8e0"/>
<rect x="151.52" y="303.00" width="15.00" height="74.30" fill="#c8203a"/>
<rect x="151.52" y="331.40" width="15.00" height="45.90" fill="#29a8e0"/>
<text transform="translate(86.30,416.20) scale(0.760,1)" font-size="8.41" fill="#231f20">Age (years)</text>
<text class="t" transform="translate(194.79,300.69) scale(1.050,1)" font-size="7.10" fill="#231f20">10</text>
<text class="t" transform="translate(198.96,316.50) scale(1.050,1)" font-size="7.10" fill="#231f20">8</text>
<text class="t" transform="translate(198.96,332.33) scale(1.050,1)" font-size="7.10" fill="#231f20">6</text>
<text class="t" transform="translate(198.89,348.15) scale(1.050,1)" font-size="7.10" fill="#231f20">4</text>
<text class="t" transform="translate(199.04,363.97) scale(1.050,1)" font-size="7.10" fill="#231f20">2</text>
<text transform="translate(188.50,366.43) rotate(-90) scale(0.749,1)" font-size="8.55" fill="#231f20">Thrombocytopenia (%)</text>
<text class="t" transform="translate(222.85,403.01) rotate(-90) scale(0.980,1)" font-size="7.30" letter-spacing="0.5" fill="#231f20">18−29</text>
<text class="t" transform="translate(241.50,403.01) rotate(-90) scale(0.980,1)" font-size="7.30" letter-spacing="0.5" fill="#231f20">30−39</text>
<text class="t" transform="translate(260.15,403.01) rotate(-90) scale(0.980,1)" font-size="7.30" letter-spacing="0.5" fill="#231f20">40−49</text>
<text class="t" transform="translate(278.81,403.01) rotate(-90) scale(0.980,1)" font-size="7.30" letter-spacing="0.5" fill="#231f20">50−59</text>
<text class="t" transform="translate(297.45,403.01) rotate(-90) scale(0.980,1)" font-size="7.30" letter-spacing="0.5" fill="#231f20">60−69</text>
<text class="t" transform="translate(316.11,403.01) rotate(-90) scale(0.980,1)" font-size="7.30" letter-spacing="0.5" fill="#231f20">70−79</text>
<text class="t" transform="translate(334.75,394.07) rotate(-90) scale(0.980,1)" font-size="7.30" letter-spacing="0.5" fill="#231f20">80+</text>
<rect x="213.10" y="367.20" width="14.70" height="10.10" fill="#c8203a"/>
<rect x="213.10" y="370.90" width="14.70" height="6.40" fill="#29a8e0"/>
<rect x="231.75" y="365.90" width="14.70" height="11.40" fill="#c8203a"/>
<rect x="231.75" y="370.90" width="14.70" height="6.40" fill="#29a8e0"/>
<rect x="250.40" y="366.70" width="14.70" height="10.60" fill="#c8203a"/>
<rect x="250.40" y="370.50" width="14.70" height="6.80" fill="#29a8e0"/>
<rect x="269.05" y="366.20" width="14.70" height="11.10" fill="#c8203a"/>
<rect x="269.05" y="369.20" width="14.70" height="8.10" fill="#29a8e0"/>
<rect x="287.70" y="357.80" width="14.70" height="19.50" fill="#c8203a"/>
<rect x="287.70" y="361.90" width="14.70" height="15.40" fill="#29a8e0"/>
<rect x="306.35" y="348.10" width="14.70" height="29.20" fill="#c8203a"/>
<rect x="306.35" y="354.20" width="14.70" height="23.10" fill="#29a8e0"/>
<rect x="325.00" y="336.20" width="14.70" height="41.10" fill="#c8203a"/>
<rect x="325.00" y="345.00" width="14.70" height="32.30" fill="#29a8e0"/>
<text transform="translate(259.70,416.40) scale(0.732,1)" font-size="8.70" fill="#231f20">Age (years)</text>
<text class="t" transform="translate(360.59,300.69) scale(1.050,1)" font-size="7.10" fill="#231f20">10</text>
<text class="t" transform="translate(364.76,316.50) scale(1.050,1)" font-size="7.10" fill="#231f20">8</text>
<text class="t" transform="translate(364.76,332.33) scale(1.050,1)" font-size="7.10" fill="#231f20">6</text>
<text class="t" transform="translate(364.69,348.15) scale(1.050,1)" font-size="7.10" fill="#231f20">4</text>
<text class="t" transform="translate(364.84,363.97) scale(1.050,1)" font-size="7.10" fill="#231f20">2</text>
<text transform="translate(358.50,357.62) rotate(-90) scale(0.753,1)" font-size="8.55" fill="#231f20">Neutropenia (%)</text>
<text class="t" transform="translate(388.95,403.01) rotate(-90) scale(0.980,1)" font-size="7.30" letter-spacing="0.5" fill="#231f20">18−29</text>
<text class="t" transform="translate(407.63,403.01) rotate(-90) scale(0.980,1)" font-size="7.30" letter-spacing="0.5" fill="#231f20">30−39</text>
<text class="t" transform="translate(426.31,403.01) rotate(-90) scale(0.980,1)" font-size="7.30" letter-spacing="0.5" fill="#231f20">40−49</text>
<text class="t" transform="translate(445.00,403.01) rotate(-90) scale(0.980,1)" font-size="7.30" letter-spacing="0.5" fill="#231f20">50−59</text>
<text class="t" transform="translate(463.67,403.01) rotate(-90) scale(0.980,1)" font-size="7.30" letter-spacing="0.5" fill="#231f20">60−69</text>
<text class="t" transform="translate(482.36,403.01) rotate(-90) scale(0.980,1)" font-size="7.30" letter-spacing="0.5" fill="#231f20">70−79</text>
<text class="t" transform="translate(501.03,394.07) rotate(-90) scale(0.980,1)" font-size="7.30" letter-spacing="0.5" fill="#231f20">80+</text>
<rect x="379.20" y="332.20" width="14.80" height="45.10" fill="#c8203a"/>
<rect x="379.20" y="357.90" width="14.80" height="19.40" fill="#29a8e0"/>
<rect x="397.88" y="346.00" width="14.80" height="31.30" fill="#c8203a"/>
<rect x="397.88" y="363.10" width="14.80" height="14.20" fill="#29a8e0"/>
<rect x="416.56" y="348.70" width="14.80" height="28.60" fill="#c8203a"/>
<rect x="416.56" y="364.80" width="14.80" height="12.50" fill="#29a8e0"/>
<rect x="435.24" y="329.00" width="14.80" height="48.30" fill="#c8203a"/>
<rect x="435.24" y="364.40" width="14.80" height="12.90" fill="#29a8e0"/>
<rect x="453.92" y="326.00" width="14.80" height="51.30" fill="#c8203a"/>
<rect x="453.92" y="363.90" width="14.80" height="13.40" fill="#29a8e0"/>
<rect x="472.60" y="345.60" width="14.80" height="31.70" fill="#c8203a"/>
<rect x="472.60" y="368.00" width="14.80" height="9.30" fill="#29a8e0"/>
<rect x="491.28" y="344.70" width="14.80" height="32.60" fill="#c8203a"/>
<rect x="491.28" y="364.80" width="14.80" height="12.50" fill="#29a8e0"/>
<rect x="425.80" y="292.30" width="7.90" height="7.90" fill="#29a8e0"/>
<text class="t" transform="translate(436.93,298.60) scale(0.950,1)" font-size="7.54" fill="#231f20">Males</text>
<rect x="468.70" y="292.30" width="7.60" height="7.90" fill="#c8203a"/>
<text class="t" transform="translate(479.25,298.60) scale(0.920,1)" font-size="7.54" fill="#231f20">Females</text>
<text transform="translate(426.30,414.60) scale(0.734,1)" font-size="8.70" fill="#231f20">Age (years)</text>
<line x1="35.80" y1="17.00" x2="35.80" y2="117.10" stroke="#3a3a3a" stroke-width="1.2"/>
<line x1="35.20" y1="116.50" x2="170.20" y2="116.50" stroke="#3a3a3a" stroke-width="1.2"/>
<line x1="32.80" y1="24.80" x2="35.80" y2="24.80" stroke="#3a3a3a" stroke-width="1.2"/>
<line x1="32.80" y1="48.50" x2="35.80" y2="48.50" stroke="#3a3a3a" stroke-width="1.2"/>
<line x1="32.80" y1="72.20" x2="35.80" y2="72.20" stroke="#3a3a3a" stroke-width="1.2"/>
<line x1="32.80" y1="95.80" x2="35.80" y2="95.80" stroke="#3a3a3a" stroke-width="1.2"/>
<line x1="209.30" y1="16.50" x2="209.30" y2="117.10" stroke="#3a3a3a" stroke-width="1.2"/>
<line x1="208.70" y1="116.50" x2="343.50" y2="116.50" stroke="#3a3a3a" stroke-width="1.2"/>
<line x1="206.30" y1="34.50" x2="209.30" y2="34.50" stroke="#3a3a3a" stroke-width="1.2"/>
<line x1="206.30" y1="60.40" x2="209.30" y2="60.40" stroke="#3a3a3a" stroke-width="1.2"/>
<line x1="206.30" y1="86.40" x2="209.30" y2="86.40" stroke="#3a3a3a" stroke-width="1.2"/>
<line x1="206.30" y1="111.40" x2="209.30" y2="111.40" stroke="#3a3a3a" stroke-width="1.2"/>
<line x1="375.30" y1="17.00" x2="375.30" y2="117.10" stroke="#3a3a3a" stroke-width="1.2"/>
<line x1="374.70" y1="116.50" x2="513.00" y2="116.50" stroke="#3a3a3a" stroke-width="1.2"/>
<line x1="372.30" y1="18.50" x2="375.30" y2="18.50" stroke="#3a3a3a" stroke-width="1.2"/>
<line x1="372.30" y1="49.00" x2="375.30" y2="49.00" stroke="#3a3a3a" stroke-width="1.2"/>
<line x1="372.30" y1="79.10" x2="375.30" y2="79.10" stroke="#3a3a3a" stroke-width="1.2"/>
<line x1="372.30" y1="109.20" x2="375.30" y2="109.20" stroke="#3a3a3a" stroke-width="1.2"/>
<line x1="35.70" y1="158.50" x2="35.70" y2="246.10" stroke="#3a3a3a" stroke-width="1.2"/>
<line x1="35.10" y1="245.50" x2="170.00" y2="245.50" stroke="#3a3a3a" stroke-width="1.2"/>
<line x1="32.70" y1="166.60" x2="35.70" y2="166.60" stroke="#3a3a3a" stroke-width="1.2"/>
<line x1="32.70" y1="182.40" x2="35.70" y2="182.40" stroke="#3a3a3a" stroke-width="1.2"/>
<line x1="32.70" y1="198.20" x2="35.70" y2="198.20" stroke="#3a3a3a" stroke-width="1.2"/>
<line x1="32.70" y1="214.00" x2="35.70" y2="214.00" stroke="#3a3a3a" stroke-width="1.2"/>
<line x1="32.70" y1="229.80" x2="35.70" y2="229.80" stroke="#3a3a3a" stroke-width="1.2"/>
<line x1="209.60" y1="158.50" x2="209.60" y2="246.10" stroke="#3a3a3a" stroke-width="1.2"/>
<line x1="209.00" y1="245.50" x2="343.50" y2="245.50" stroke="#3a3a3a" stroke-width="1.2"/>
<line x1="206.60" y1="166.60" x2="209.60" y2="166.60" stroke="#3a3a3a" stroke-width="1.2"/>
<line x1="206.60" y1="182.40" x2="209.60" y2="182.40" stroke="#3a3a3a" stroke-width="1.2"/>
<line x1="206.60" y1="198.20" x2="209.60" y2="198.20" stroke="#3a3a3a" stroke-width="1.2"/>
<line x1="206.60" y1="214.00" x2="209.60" y2="214.00" stroke="#3a3a3a" stroke-width="1.2"/>
<line x1="206.60" y1="229.80" x2="209.60" y2="229.80" stroke="#3a3a3a" stroke-width="1.2"/>
<line x1="375.50" y1="158.50" x2="375.50" y2="246.10" stroke="#3a3a3a" stroke-width="1.2"/>
<line x1="374.90" y1="245.50" x2="509.80" y2="245.50" stroke="#3a3a3a" stroke-width="1.2"/>
<line x1="372.50" y1="166.30" x2="375.50" y2="166.30" stroke="#3a3a3a" stroke-width="1.2"/>
<line x1="372.50" y1="182.14" x2="375.50" y2="182.14" stroke="#3a3a3a" stroke-width="1.2"/>
<line x1="372.50" y1="197.98" x2="375.50" y2="197.98" stroke="#3a3a3a" stroke-width="1.2"/>
<line x1="372.50" y1="213.82" x2="375.50" y2="213.82" stroke="#3a3a3a" stroke-width="1.2"/>
<line x1="372.50" y1="229.66" x2="375.50" y2="229.66" stroke="#3a3a3a" stroke-width="1.2"/>
<line x1="35.90" y1="290.80" x2="35.90" y2="377.90" stroke="#3a3a3a" stroke-width="1.2"/>
<line x1="35.30" y1="377.30" x2="170.10" y2="377.30" stroke="#3a3a3a" stroke-width="1.2"/>
<line x1="32.90" y1="298.50" x2="35.90" y2="298.50" stroke="#3a3a3a" stroke-width="1.2"/>
<line x1="32.90" y1="314.26" x2="35.90" y2="314.26" stroke="#3a3a3a" stroke-width="1.2"/>
<line x1="32.90" y1="330.02" x2="35.90" y2="330.02" stroke="#3a3a3a" stroke-width="1.2"/>
<line x1="32.90" y1="345.78" x2="35.90" y2="345.78" stroke="#3a3a3a" stroke-width="1.2"/>
<line x1="32.90" y1="361.54" x2="35.90" y2="361.54" stroke="#3a3a3a" stroke-width="1.2"/>
<line x1="209.60" y1="290.80" x2="209.60" y2="377.90" stroke="#3a3a3a" stroke-width="1.2"/>
<line x1="209.00" y1="377.30" x2="343.50" y2="377.30" stroke="#3a3a3a" stroke-width="1.2"/>
<line x1="206.60" y1="298.20" x2="209.60" y2="298.20" stroke="#3a3a3a" stroke-width="1.2"/>
<line x1="206.60" y1="314.02" x2="209.60" y2="314.02" stroke="#3a3a3a" stroke-width="1.2"/>
<line x1="206.60" y1="329.84" x2="209.60" y2="329.84" stroke="#3a3a3a" stroke-width="1.2"/>
<line x1="206.60" y1="345.66" x2="209.60" y2="345.66" stroke="#3a3a3a" stroke-width="1.2"/>
<line x1="206.60" y1="361.48" x2="209.60" y2="361.48" stroke="#3a3a3a" stroke-width="1.2"/>
<line x1="375.60" y1="290.80" x2="375.60" y2="377.90" stroke="#3a3a3a" stroke-width="1.2"/>
<line x1="375.00" y1="377.30" x2="509.90" y2="377.30" stroke="#3a3a3a" stroke-width="1.2"/>
<line x1="372.60" y1="298.20" x2="375.60" y2="298.20" stroke="#3a3a3a" stroke-width="1.2"/>
<line x1="372.60" y1="314.02" x2="375.60" y2="314.02" stroke="#3a3a3a" stroke-width="1.2"/>
<line x1="372.60" y1="329.84" x2="375.60" y2="329.84" stroke="#3a3a3a" stroke-width="1.2"/>
<line x1="372.60" y1="345.66" x2="375.60" y2="345.66" stroke="#3a3a3a" stroke-width="1.2"/>
<line x1="372.60" y1="361.48" x2="375.60" y2="361.48" stroke="#3a3a3a" stroke-width="1.2"/>
<rect x="0.5" y="0.5" width="519" height="424" fill="none" stroke="#141414" stroke-width="1.2"/>
</svg>
</body></html>
